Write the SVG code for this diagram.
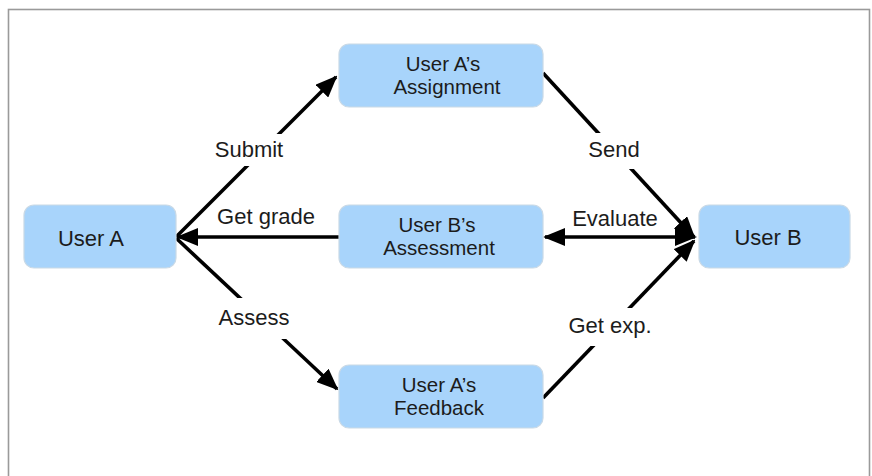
<svg xmlns="http://www.w3.org/2000/svg" width="872" height="476" viewBox="0 0 872 476">
  <style>
    .node rect { fill: #a8d4fb; stroke: #c9d9e6; stroke-width: 1.2; }
    .node text, .label { font-family: "Liberation Sans", Arial, sans-serif; font-size: 22px; fill: #1c1c1c; text-anchor: middle; }
    .node text.two { font-size: 20.5px; }
    .edge { stroke: #000; stroke-width: 3.6; fill: none; }
    .gap { fill: #fff; }
  </style>
  <defs>
    <marker id="head" markerUnits="userSpaceOnUse" viewBox="0 0 22 18" refX="20" refY="9" markerWidth="22" markerHeight="18" orient="auto-start-reverse">
      <path d="M0,0 L22,9 L0,18 Z" fill="#000"/>
    </marker>
  </defs>

  <rect x="8.5" y="9.5" width="861" height="480" fill="#fff" stroke="#9a9a9a" stroke-width="1.6"/>

  <g id="connectors">
    <line class="edge" x1="176" y1="237" x2="336" y2="77" marker-end="url(#head)"/>
    <line class="edge" x1="339" y1="237" x2="178" y2="237" marker-end="url(#head)"/>
    <line class="edge" x1="176" y1="238" x2="337" y2="389" marker-end="url(#head)"/>
    <line class="edge" x1="543" y1="73" x2="694" y2="237" marker-end="url(#head)"/>
    <line class="edge" x1="545" y1="237" x2="695" y2="237" marker-start="url(#head)" marker-end="url(#head)"/>
    <line class="edge" x1="543" y1="398" x2="694" y2="241" marker-end="url(#head)"/>

    <!-- white breaks where the labels sit on the lines -->
    <rect class="gap" x="205" y="134" width="90" height="32"/>
    <rect class="gap" x="578" y="133" width="74" height="36"/>
    <rect class="gap" x="210" y="298" width="92" height="41"/>
    <rect class="gap" x="558" y="308" width="100" height="38"/>

    <text class="label" x="249" y="157">Submit</text>
    <text class="label" x="266" y="224">Get grade</text>
    <text class="label" x="254" y="325">Assess</text>
    <text class="label" x="614" y="157">Send</text>
    <text class="label" x="615" y="226">Evaluate</text>
    <text class="label" x="610" y="333">Get exp.</text>
  </g>

  <g id="user-a" class="node">
    <rect x="24" y="205" width="152" height="63" rx="10"/>
    <text x="91" y="246">User A</text>
  </g>
  <g id="assignment" class="node">
    <rect x="339" y="44" width="204" height="63" rx="10"/>
    <text class="two" x="443" y="71">User A’s</text>
    <text class="two" x="447" y="94">Assignment</text>
  </g>
  <g id="assessment" class="node">
    <rect x="339" y="205" width="204" height="63" rx="10"/>
    <text class="two" x="437" y="232">User B’s</text>
    <text class="two" x="439" y="255">Assessment</text>
  </g>
  <g id="feedback" class="node">
    <rect x="339" y="365" width="204" height="63" rx="10"/>
    <text class="two" x="439" y="392">User A’s</text>
    <text class="two" x="439" y="415">Feedback</text>
  </g>
  <g id="user-b" class="node">
    <rect x="699" y="205" width="151" height="63" rx="10"/>
    <text x="768" y="245">User B</text>
  </g>
</svg>
